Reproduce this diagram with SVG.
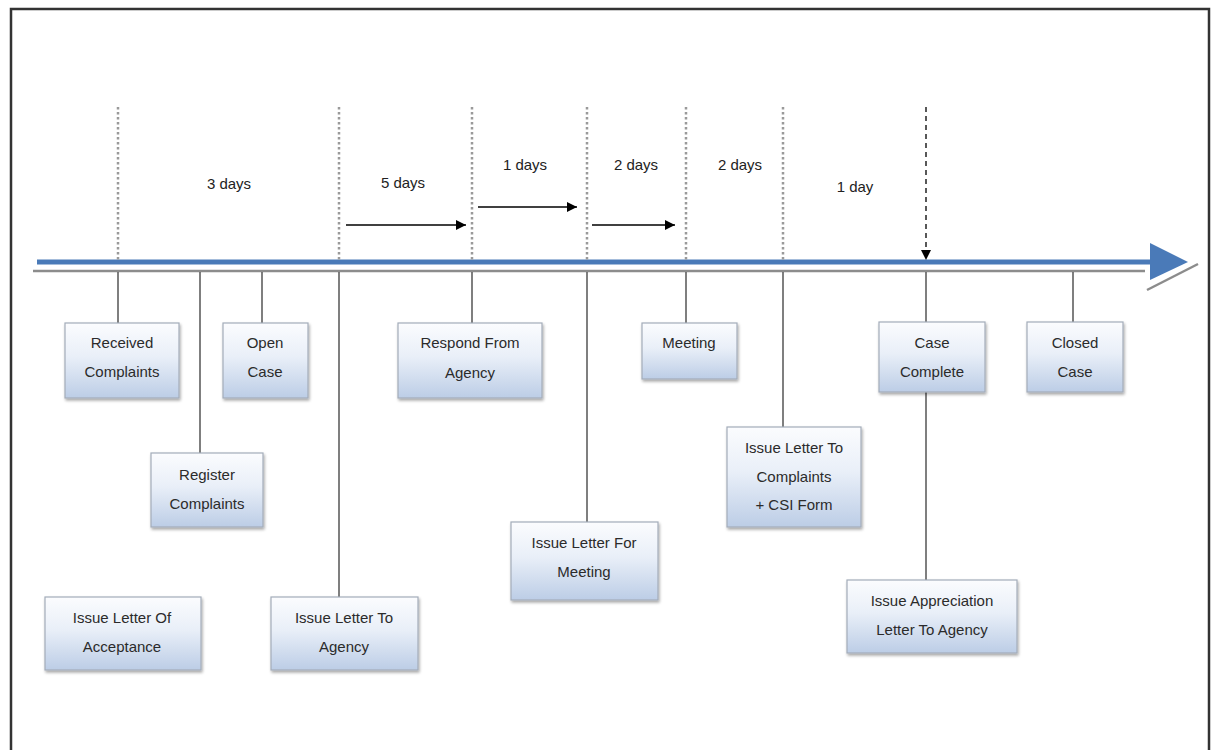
<svg xmlns="http://www.w3.org/2000/svg" width="1218" height="750" viewBox="0 0 1218 750">
<defs>
<linearGradient id="boxg" x1="0" y1="0" x2="0" y2="1">
<stop offset="0" stop-color="#fbfcfe"/>
<stop offset="0.45" stop-color="#e9eff8"/>
<stop offset="1" stop-color="#bccde6"/>
</linearGradient>
<filter id="sh" x="-10%" y="-10%" width="125%" height="130%">
<feGaussianBlur in="SourceAlpha" stdDeviation="1.5"/>
<feOffset dx="1" dy="2" result="b"/>
<feComponentTransfer><feFuncA type="linear" slope="0.35"/></feComponentTransfer>
<feMerge><feMergeNode/><feMergeNode in="SourceGraphic"/></feMerge>
</filter>
<marker id="ah" viewBox="0 0 10 10" refX="10" refY="5" markerWidth="10" markerHeight="10" markerUnits="userSpaceOnUse" orient="auto">
<path d="M0,0 L10,5 L0,10 z" fill="#000"/>
</marker>
</defs>
<style>
.box{fill:url(#boxg);stroke:#a3acb9;stroke-width:1.2;filter:url(#sh)}
.t{font-family:"Liberation Sans",Arial,sans-serif;font-size:15px;fill:#2b2b2b;text-anchor:middle}
.d{font-family:"Liberation Sans",Arial,sans-serif;font-size:15px;fill:#222;text-anchor:middle}
.dot{stroke:#9a9a9a;stroke-width:2.5;stroke-dasharray:2.5,2.5;fill:none}
.drop{stroke:#555;stroke-width:1.5;fill:none}
.arr{stroke:#000;stroke-width:1.5;fill:none;marker-end:url(#ah)}
</style>
<rect x="0" y="0" width="1218" height="750" fill="#fff"/>
<rect x="11" y="9" width="1198" height="750" fill="none" stroke="#333" stroke-width="2.5"/>

<g id="timeline">
<line x1="33" y1="271" x2="1145" y2="271" stroke="#8c8c8c" stroke-width="2.5"/>
<line x1="1147" y1="290" x2="1198" y2="264" stroke="#8c8c8c" stroke-width="2.5"/>
<line x1="37" y1="262" x2="1155" y2="262" stroke="#4a7ab8" stroke-width="5"/>
<polygon points="1150,243 1188,262 1150,280" fill="#4a7ab8"/>
</g>

<g id="connectors">
<line class="dot" x1="118" y1="107" x2="118" y2="262"/>
<line class="dot" x1="339" y1="107" x2="339" y2="262"/>
<line class="dot" x1="472" y1="107" x2="472" y2="262"/>
<line class="dot" x1="587" y1="107" x2="587" y2="262"/>
<line class="dot" x1="686" y1="107" x2="686" y2="262"/>
<line class="dot" x1="783" y1="107" x2="783" y2="262"/>
<line x1="926" y1="107" x2="926" y2="260" stroke="#222" stroke-width="1.5" stroke-dasharray="5,4" marker-end="url(#ah)"/>
<line class="arr" x1="346" y1="225" x2="466" y2="225"/>
<line class="arr" x1="478" y1="207" x2="577" y2="207"/>
<line class="arr" x1="592" y1="225" x2="675" y2="225"/>
<line class="drop" x1="118" y1="272" x2="118" y2="323"/>
<line class="drop" x1="200" y1="272" x2="200" y2="453"/>
<line class="drop" x1="262" y1="272" x2="262" y2="323"/>
<line class="drop" x1="339" y1="272" x2="339" y2="597"/>
<line class="drop" x1="472" y1="272" x2="472" y2="323"/>
<line class="drop" x1="587" y1="272" x2="587" y2="522"/>
<line class="drop" x1="686" y1="272" x2="686" y2="323"/>
<line class="drop" x1="783" y1="272" x2="783" y2="427"/>
<line class="drop" x1="926" y1="272" x2="926" y2="322"/>
<line class="drop" x1="926" y1="392" x2="926" y2="580"/>
<line class="drop" x1="1073" y1="272" x2="1073" y2="322"/>
</g>

<g id="labels">
<text class="d" x="229" y="189">3 days</text>
<text class="d" x="403" y="188">5 days</text>
<text class="d" x="525" y="170">1 days</text>
<text class="d" x="636" y="170">2 days</text>
<text class="d" x="740" y="170">2 days</text>
<text class="d" x="855" y="192">1 day</text>
</g>

<g id="received">
<rect class="box" x="65" y="323" width="114" height="75"/>
<text class="t" x="122" y="348">Received</text>
<text class="t" x="122" y="377">Complaints</text>
</g>
<g id="register">
<rect class="box" x="151" y="453" width="112" height="74"/>
<text class="t" x="207" y="480">Register</text>
<text class="t" x="207" y="509">Complaints</text>
</g>
<g id="open">
<rect class="box" x="223" y="323" width="85" height="75"/>
<text class="t" x="265" y="348">Open</text>
<text class="t" x="265" y="377">Case</text>
</g>
<g id="acceptance">
<rect class="box" x="45" y="597" width="156" height="73"/>
<text class="t" x="122" y="623">Issue Letter Of</text>
<text class="t" x="122" y="652">Acceptance</text>
</g>
<g id="letteragency">
<rect class="box" x="271" y="597" width="147" height="73"/>
<text class="t" x="344" y="623">Issue Letter To</text>
<text class="t" x="344" y="652">Agency</text>
</g>
<g id="respond">
<rect class="box" x="398" y="323" width="144" height="75"/>
<text class="t" x="470" y="348">Respond From</text>
<text class="t" x="470" y="378">Agency</text>
</g>
<g id="lettermeeting">
<rect class="box" x="511" y="522" width="147" height="78"/>
<text class="t" x="584" y="548">Issue Letter For</text>
<text class="t" x="584" y="577">Meeting</text>
</g>
<g id="meeting">
<rect class="box" x="642" y="323" width="95" height="56"/>
<text class="t" x="689" y="348">Meeting</text>
</g>
<g id="lettercomplaints">
<rect class="box" x="727" y="427" width="134" height="100"/>
<text class="t" x="794" y="453">Issue Letter To</text>
<text class="t" x="794" y="482">Complaints</text>
<text class="t" x="794" y="510">+ CSI Form</text>
</g>
<g id="complete">
<rect class="box" x="879" y="322" width="106" height="70"/>
<text class="t" x="932" y="348">Case</text>
<text class="t" x="932" y="377">Complete</text>
</g>
<g id="appreciation">
<rect class="box" x="847" y="580" width="170" height="73"/>
<text class="t" x="932" y="606">Issue Appreciation</text>
<text class="t" x="932" y="635">Letter To Agency</text>
</g>
<g id="closed">
<rect class="box" x="1027" y="322" width="96" height="70"/>
<text class="t" x="1075" y="348">Closed</text>
<text class="t" x="1075" y="377">Case</text>
</g>
</svg>
